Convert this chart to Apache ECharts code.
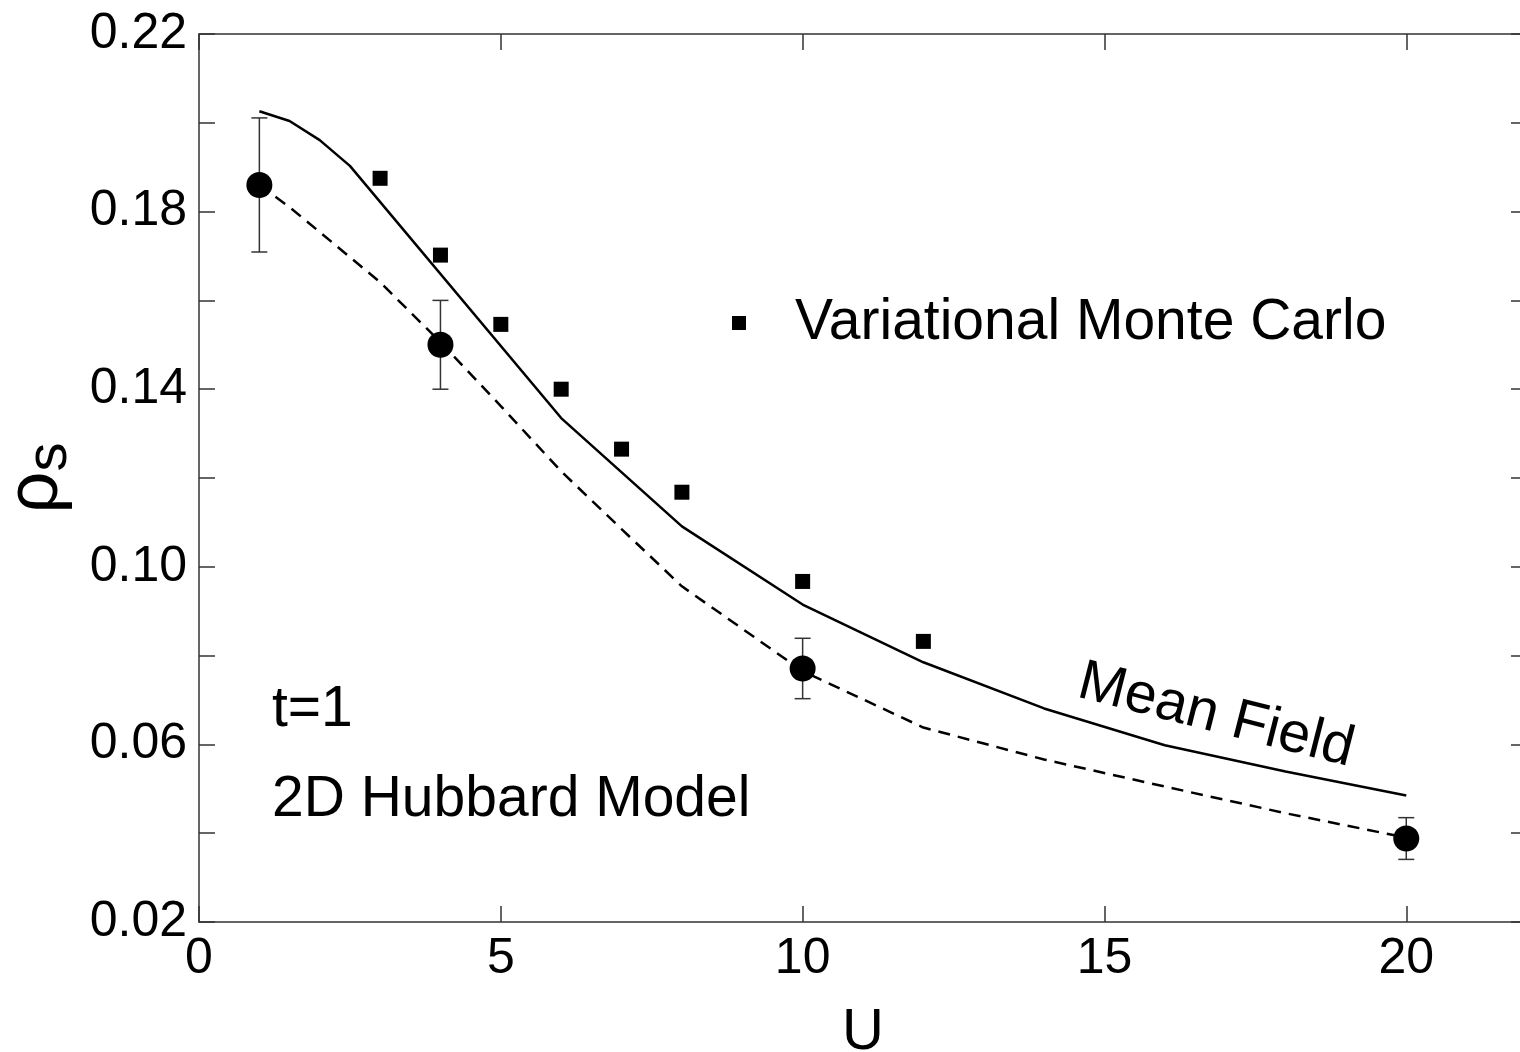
<!DOCTYPE html>
<html>
<head>
<meta charset="utf-8">
<title>rho_s vs U</title>
<script src="https://cdn.jsdelivr.net/npm/echarts/dist/echarts.min.js"></script>
<style>
  html, body { margin: 0; padding: 0; background: #fff; }
  #chart { width: 1520px; height: 1052px; }
</style>
</head>
<body>
<div id="chart"></div>
<script>
// mean field, solid line
const mfU = [1, 1.5, 2, 2.5, 6, 8, 10, 12, 14, 16, 18, 20];
const mfRho = [0.2026, 0.2004, 0.1961, 0.1903, 0.1335, 0.1091, 0.0915, 0.0785, 0.0681, 0.0598, 0.0539, 0.0485];

// dashed curve through the QMC points
const dashU = [1, 1.5, 2, 3, 4, 5, 6, 7, 8, 10, 12, 14, 16, 18, 20];
const dashRho = [0.1860, 0.1810, 0.1754, 0.1641, 0.1506, 0.1362, 0.1215, 0.1085, 0.0956, 0.0765, 0.0638, 0.0566, 0.0505, 0.0445, 0.0390];

// QMC with error bars
const qmcU = [1, 4, 10, 20];
const qmcRho = [0.1860, 0.1500, 0.0771, 0.0388];
const qmcErr = [0.0151, 0.0100, 0.0068, 0.0047];

// variational monte carlo
const vmcU = [3, 4, 5, 6, 7, 8, 10, 12];
const vmcRho = [0.1875, 0.1702, 0.1546, 0.1400, 0.1265, 0.1168, 0.0967, 0.0832];

const xTicks = { min: 0, max: 22, interval: 5 };
const yTicks = { min: 0.02, max: 0.22, interval: 0.02 };

const FONT = '"Liberation Sans", Arial, Helvetica, sans-serif';
const AXIS_COLOR = '#333';

const chart = echarts.init(document.getElementById('chart'));

const zip = (xs, ys) => xs.map((x, i) => [x, ys[i]]);

const frameAxis = (extra) => Object.assign({
  type: 'value',
  splitLine: { show: false },
  axisLine: { show: true, onZero: false, lineStyle: { color: AXIS_COLOR, width: 1.5 } },
  axisTick: { show: true, inside: true, length: 16, lineStyle: { color: AXIS_COLOR, width: 1.5 } },
}, extra);

const option = {
  animation: false,
  backgroundColor: '#fff',
  grid: {
    left: 199,
    right: -7,
    top: 34,
    bottom: 130,
    containLabel: false,
    outerBoundsMode: 'none',
  },
  legend: {
    data: ['Variational Monte Carlo'],
    left: 727,
    top: 288,
    icon: 'rect',
    itemWidth: 14,
    itemHeight: 14,
    selectedMode: false,
    textStyle: {
      fontFamily: FONT,
      fontSize: 57,
      lineHeight: 60,
      color: '#000',
      padding: [0, 0, 0, 44],
    },
  },
  xAxis: [
    frameAxis({
      ...xTicks,
      position: 'bottom',
      name: 'U',
      nameLocation: 'middle',
      nameGap: 82,
      nameTextStyle: { fontFamily: FONT, fontSize: 58, color: '#000' },
      axisLabel: {
        margin: 12,
        fontFamily: FONT,
        fontSize: 50,
        color: '#000',
        showMaxLabel: false,
      },
    }),
    frameAxis({
      ...xTicks,
      position: 'top',
      axisLabel: { show: false },
    }),
  ],
  yAxis: [
    frameAxis({
      ...yTicks,
      position: 'left',
      name: '{r|ρ}{s|s}',
      nameLocation: 'middle',
      nameRotate: 90,
      nameGap: 120,
      nameTextStyle: {
        rich: {
          r: { fontFamily: FONT, fontSize: 74, color: '#000' },
          s: { fontFamily: FONT, fontSize: 58, color: '#000', padding: [26, 0, 0, 0] },
        },
      },
      axisLabel: {
        margin: 12,
        fontFamily: FONT,
        fontSize: 50,
        color: '#000',
        // label every other tick: 0.02, 0.06, ... 0.22
        formatter: (v) => (Math.round(v * 100) % 4 === 2 ? v.toFixed(2) : ''),
      },
    }),
    frameAxis({
      ...yTicks,
      position: 'right',
      axisLabel: { show: false },
    }),
  ],
  series: [
    {
      name: 'Mean Field',
      type: 'line',
      data: zip(mfU, mfRho),
      symbol: 'none',
      lineStyle: { color: '#000', width: 2.5 },
      z: 2,
    },
    {
      name: 'QMC fit',
      type: 'line',
      data: zip(dashU, dashRho),
      symbol: 'none',
      lineStyle: { color: '#000', width: 2.5, type: [12, 8] },
      z: 2,
    },
    {
      name: 'QMC error',
      type: 'custom',
      data: qmcU.map((u, i) => [u, qmcRho[i] - qmcErr[i], qmcRho[i] + qmcErr[i]]),
      renderItem(params, api) {
        const lo = api.coord([api.value(0), api.value(1)]);
        const hi = api.coord([api.value(0), api.value(2)]);
        const hw = 8;
        const style = { stroke: AXIS_COLOR, lineWidth: 1.5 };
        return {
          type: 'group',
          children: [
            { type: 'line', shape: { x1: lo[0], y1: lo[1], x2: hi[0], y2: hi[1] }, style },
            { type: 'line', shape: { x1: lo[0] - hw, y1: lo[1], x2: lo[0] + hw, y2: lo[1] }, style },
            { type: 'line', shape: { x1: hi[0] - hw, y1: hi[1], x2: hi[0] + hw, y2: hi[1] }, style },
          ],
        };
      },
      z: 3,
    },
    {
      name: 'QMC',
      type: 'scatter',
      data: zip(qmcU, qmcRho),
      symbol: 'circle',
      symbolSize: 26,
      itemStyle: { color: '#000', opacity: 1 },
      z: 4,
    },
    {
      name: 'Variational Monte Carlo',
      type: 'scatter',
      data: zip(vmcU, vmcRho),
      symbol: 'rect',
      symbolSize: 15,
      itemStyle: { color: '#000', opacity: 1 },
      z: 4,
    },
  ],
  graphic: [
    {
      type: 'text',
      x: 272,
      y: 710,
      style: { text: 't=1', font: `57px ${FONT}`, fill: '#000', align: 'left', verticalAlign: 'middle' },
    },
    {
      type: 'text',
      x: 272,
      y: 800,
      style: { text: '2D Hubbard Model', font: `57px ${FONT}`, fill: '#000', align: 'left', verticalAlign: 'middle' },
    },
    {
      type: 'text',
      x: 1216,
      y: 716,
      rotation: -0.25,
      style: { text: 'Mean Field', font: `57px ${FONT}`, fill: '#000', align: 'center', verticalAlign: 'middle' },
    },
  ],
};

chart.setOption(option);
</script>
</body>
</html>
